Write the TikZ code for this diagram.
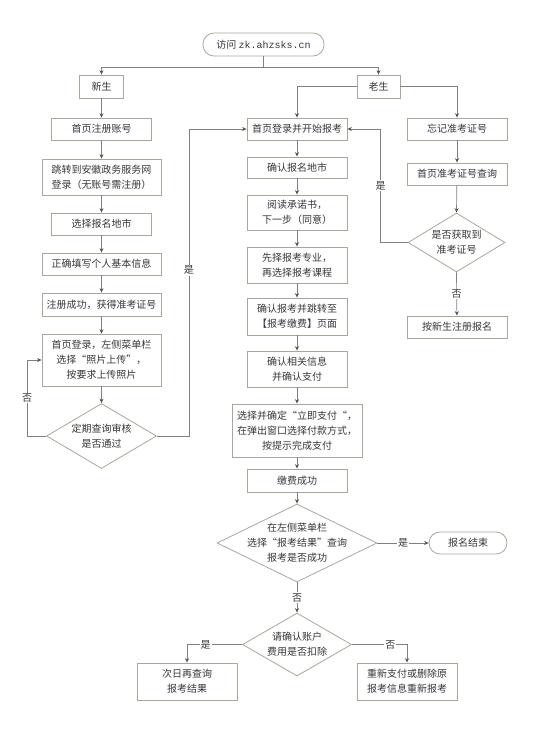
\documentclass[tikz,border=0pt]{standalone}
\usepackage{fontspec}
\setmainfont{Noto Sans CJK SC}
\newfontfamily\urlfont{Liberation Mono}
\usetikzlibrary{shapes.geometric,arrows.meta}
\definecolor{boxc}{RGB}{168,168,152}
\definecolor{linec}{RGB}{128,128,128}
\definecolor{arrc}{RGB}{85,85,85}
\definecolor{txt}{RGB}{55,55,55}
\newcommand\fsz{\fontsize{10}{15}\selectfont}
\begin{document}
\begin{tikzpicture}[x=1pt,y=-1pt,
  wh/.style 2 args={minimum width=#1pt, minimum height=#2pt},
  box/.style={draw=boxc, line width=0.8pt, fill=white, text=txt, align=center, inner sep=0pt, font=\fsz},
  term/.style={box, rounded corners=11pt},
  dia/.style={diamond, draw=boxc, line width=0.8pt, fill=white, inner sep=0pt},
  dtext/.style={text=txt, align=center, inner sep=0pt, font=\fsz},
  arr/.style={draw=linec, line width=0.7pt, -{Stealth[length=4.5pt,width=4pt,color=arrc]}},
  lab/.style={fill=white, inner sep=1pt, text=txt, font=\fsz}]
\useasboundingbox (0,0) rectangle (555,734);
% top
\node[term, wh={121}{23}] (top) at (263.5,44.5) {访问 {\urlfont zk.ahzsks.cn}};
\node[box, wh={44}{23}] (xs) at (101.5,86.5) {新生};
\node[box, wh={43}{23}] (ls) at (378.5,86.5) {老生};
% left column
\node[box, wh={100}{22}] (l1) at (101.5,129) {首页注册账号};
\node[box, wh={119}{36}] (l2) at (101.5,177) {跳转到安徽政务服务网\\登录（无账号需注册）};
\node[box, wh={100}{22}] (l3) at (101.5,224) {选择报名地市};
\node[box, wh={119}{22}] (l4) at (101.5,264) {正确填写个人基本信息};
\node[box, wh={119}{23}] (l5) at (101.5,304.5) {注册成功，获得准考证号};
\node[box, wh={119}{52}] (l6) at (101.5,360) {首页登录，左侧菜单栏\\选择“照片上传”，\\按要求上传照片};
\node[dia, wh={110}{65}] (ld) at (101.5,436) {};
\node[dtext] (ldt) at (ld) {定期查询审核\\是否通过};
% middle column
\node[box, wh={100}{22}] (m1) at (297,129) {首页登录并开始报考};
\node[box, wh={100}{21}] (m2) at (297,167.5) {确认报名地市};
\node[box, wh={100}{35}] (m3) at (297,212.5) {阅读承诺书，\\下一步（同意）};
\node[box, wh={100}{36}] (m4) at (297,265) {先择报考专业，\\再选择报考课程};
\node[box, wh={100}{37}] (m5) at (297,316.5) {确认报考并跳转至\\【报考缴费】页面};
\node[box, wh={100}{36}] (m6) at (297,369) {确认相关信息\\并确认支付};
\node[box, wh={130}{53}] (m7) at (297,430.5) {选择并确定“立即支付“，\\在弹出窗口选择付款方式，\\按提示完成支付};
\node[box, wh={100}{23}] (m8) at (297,480.5) {缴费成功};
\node[dia, wh={160}{78}] (d3) at (297,543) {};
\node[dtext] (d3t) at (d3) {在左侧菜单栏\\选择“报考结果”查询\\报考是否成功};
\node[term, wh={78}{22}] (fin) at (468,543) {报名结束};
\node[dia, wh={109}{63}] (d4) at (297,644.5) {};
\node[dtext] (d4t) at (d4) {请确认账户\\费用是否扣除};
\node[box, wh={100}{37}] (bl) at (187,681.5) {次日再查询\\报考结果};
\node[box, wh={100}{37}] (br) at (407,681.5) {重新支付或删除原\\报考信息重新报考};
% right column
\node[box, wh={100}{22}] (r1) at (457,129) {忘记准考证号};
\node[box, wh={100}{22}] (r2) at (457,174) {首页准考证号查询};
\node[dia, wh={97}{59}] (rd) at (456.5,242.5) {};
\node[dtext] (rdt) at (rd) {是否获取到\\准考证号};
\node[box, wh={100}{22}] (r3) at (457,327) {按新生注册报名};
% connectors
\draw[arr] (top.south) -- ++(0,11) -| (xs.north);
\draw[arr] (top.south) -- ++(0,11) -| (ls.north);
\draw[arr] (ls.west) -| (m1.north);
\draw[arr] (ls.east) -| (r1.north);
\draw[arr] (xs) -- (l1);
\draw[arr] (l1) -- (l2);
\draw[arr] (l2) -- (l3);
\draw[arr] (l3) -- (l4);
\draw[arr] (l4) -- (l5);
\draw[arr] (l5) -- (l6);
\draw[arr] (l6) -- (ld);
\draw[arr] (ld.west) -- ++(-19,0) |- (l6.west) node[lab, pos=0.25] {否};
\draw[arr] (ld.east) -- ++(32,0) |- (m1.west) node[lab, pos=0.27] {是};
\draw[arr] (m1) -- (m2);
\draw[arr] (m2) -- (m3);
\draw[arr] (m3) -- (m4);
\draw[arr] (m4) -- (m5);
\draw[arr] (m5) -- (m6);
\draw[arr] (m6) -- (m7);
\draw[arr] (m7) -- (m8);
\draw[arr] (m8) -- (d3.north);
\draw[arr] (d3.east) -- (fin.west) node[lab, midway] {是};
\draw[arr] (d3.south) -- (d4.north) node[lab, midway] {否};
\draw[arr] (d4.west) -| (bl.north) node[lab, pos=0.33] {是};
\draw[arr] (d4.east) -| (br.north) node[lab, pos=0.35] {否};
\draw[arr] (r1) -- (r2);
\draw[arr] (r2) -- (rd.north);
\draw[arr] (rd.south) -- (r3) node[lab, midway] {否};
\draw[arr] (rd.west) -- ++(-27,0) |- (m1.east) node[lab, pos=0.25] {是};
\end{tikzpicture}
\end{document}
